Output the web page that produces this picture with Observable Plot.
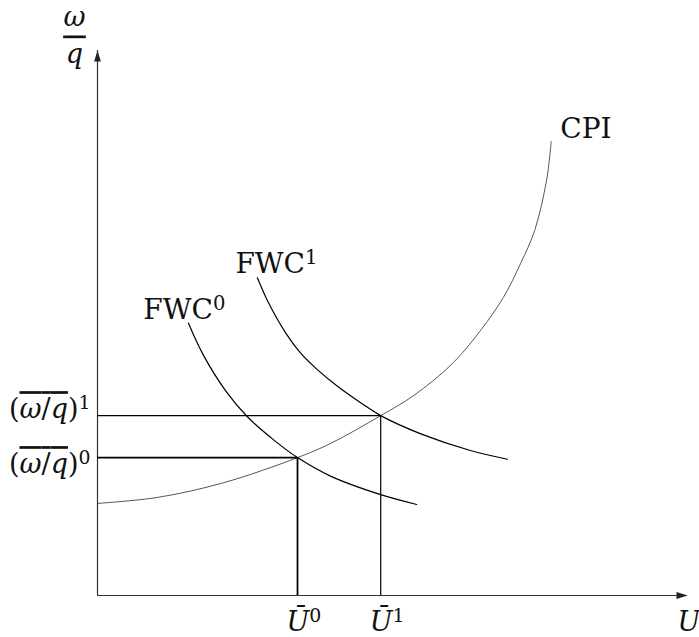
<!DOCTYPE html>
<html>
<head>
<meta charset="utf-8">
<script src="https://cdn.jsdelivr.net/npm/d3@7"></script>
<script src="https://cdn.jsdelivr.net/npm/@observablehq/plot@0.6"></script>
<style>
  html, body { margin: 0; padding: 0; background: #fff; }
</style>
</head>
<body>
<div id="chart"></div>
<script>
// Axis extents (U horizontally, real wage ω/q vertically)
const uMax = 10;
const wMax = 10;

// Price-setting curve (CPI)
const cpiU = [0, 1.02, 2.14, 3.39, 3.95, 4.80, 5.36, 6.01, 6.49, 6.88, 7.17, 7.41, 7.61, 7.69];
const cpiW = [1.69, 1.80, 2.07, 2.53, 2.79, 3.30, 3.67, 4.25, 4.86, 5.47, 6.09, 6.70, 7.61, 8.33];

// Wage curves before (0) and after (1) the shift
const fwc0U = [1.54, 1.79, 2.17, 2.54, 2.98, 3.39, 3.95, 4.80, 5.41];
const fwc0W = [5.00, 4.42, 3.76, 3.28, 2.86, 2.53, 2.19, 1.85, 1.67];
const fwc1U = [2.71, 2.89, 3.20, 3.44, 3.73, 4.09, 4.51, 4.80, 5.47, 6.32, 6.95];
const fwc1W = [5.83, 5.39, 4.80, 4.45, 4.14, 3.82, 3.50, 3.30, 2.97, 2.66, 2.50];

// Equilibria where each wage curve meets the CPI curve
const eqU = [3.39, 4.80];
const eqW = [2.53, 3.30];
const eqTags = ["0", "1"];

// Curve and axis names (markup: *italic*, {overline}, ^superscript)
const curveNames = ["CPI", "FWC^0", "FWC^1"];
const axisNames = ["*U*", "*ω*", "{\u200A*q*\u200A}"];

const serif = "DejaVu Serif";
const fs = 27;
const supRaise = 9;

// Filled arrowhead, tip at the origin pointing up
const arrowHead = {
  draw(ctx) {
    ctx.moveTo(0, 0);
    ctx.lineTo(3.4, 11);
    ctx.lineTo(-3.4, 11);
    ctx.closePath();
  }
};

const textBase = {fontFamily: serif, fontSize: fs, fill: "#111", lineAnchor: "bottom"};
const nameBase = {...textBase, fontSize: 28, textAnchor: "start"};

const marks = [
  // axes
  Plot.ruleY([0], {x1: 0, x2: uMax, stroke: "#333", strokeWidth: 1.2}),
  Plot.ruleX([0], {y1: 0, y2: wMax, stroke: "#333", strokeWidth: 1.2}),
  Plot.dot([0], {x: uMax, y: 0, symbol: arrowHead, rotate: 90, fill: "#222", stroke: "none"}),
  Plot.dot([0], {x: 0, y: wMax, symbol: arrowHead, fill: "#222", stroke: "none"}),

  // curves
  Plot.line(cpiU, {x: cpiU, y: cpiW, curve: "catmull-rom", stroke: "#444", strokeWidth: 0.9}),
  Plot.line(fwc0U, {x: fwc0U, y: fwc0W, curve: "catmull-rom", stroke: "#000", strokeWidth: 1.2}),
  Plot.line(fwc1U, {x: fwc1U, y: fwc1W, curve: "catmull-rom", stroke: "#000", strokeWidth: 1.2}),
];

// guide lines from each equilibrium to the axes
const guideWidths = [1.8, 1.2];
eqU.forEach((u, i) => {
  const w = eqW[i];
  marks.push(
    Plot.ruleY([w], {x1: 0, x2: u, y: w, stroke: "#000", strokeWidth: guideWidths[i]}),
    Plot.ruleX([u], {y1: 0, y2: w, x: u, stroke: "#000", strokeWidth: guideWidths[i]})
  );
});

// equilibrium tick labels
const yLabelDy = [15.5, 2.5];
eqTags.forEach((k, i) => {
  marks.push(
    Plot.text([`*Ū*^${k}`], {...textBase, x: eqU[i], y: 0, textAnchor: "start", dx: -11, dy: 35}),
    Plot.text([`({*ω*/*q*})^${k}`], {...textBase, x: 0, y: eqW[i], textAnchor: "end", dx: -7, dy: yLabelDy[i]})
  );
});

// curve names
marks.push(
  Plot.text([curveNames[0]], {...nameBase, x: cpiU[cpiU.length - 1], y: cpiW[cpiW.length - 1], dx: 9, dy: -4}),
  Plot.text([curveNames[1]], {...nameBase, x: fwc0U[0], y: fwc0W[0], dx: -45, dy: -4}),
  Plot.text([curveNames[2]], {...nameBase, x: fwc1U[0], y: fwc1W[0], dx: -22, dy: -5})
);

// axis names
marks.push(
  Plot.text([axisNames[0]], {...textBase, x: uMax, y: 0, textAnchor: "start", dx: -10, dy: 35}),
  Plot.text([axisNames[1]], {...textBase, x: 0, y: wMax, textAnchor: "middle", dx: -23, dy: -25}),
  Plot.text([axisNames[2]], {...textBase, x: 0, y: wMax, textAnchor: "middle", dx: -23, dy: 12})
);

const svg = Plot.plot({
  width: 699,
  height: 637,
  marginLeft: 97,
  marginRight: 12,
  marginTop: 50,
  marginBottom: 42,
  x: {domain: [0, uMax], axis: null},
  y: {domain: [0, wMax], axis: null},
  marks
});

// turn the small markup in labels into styled tspans
const svgNS = "http://www.w3.org/2000/svg";
function richify(el) {
  el.setAttribute("font-family", serif);
  const src = el.textContent;
  if (!/[*{}^]/.test(src)) return;
  const runs = [];
  let italic = false, over = false, sup = false, buf = "";
  const flush = () => { if (buf) runs.push({text: buf, italic, over, sup}); buf = ""; };
  for (const ch of src) {
    if (ch === "*") { flush(); italic = !italic; }
    else if (ch === "{") { flush(); over = true; }
    else if (ch === "}") { flush(); over = false; }
    else if (ch === "^") { flush(); sup = true; }
    else buf += ch;
  }
  flush();
  el.textContent = "";
  let raised = false;
  for (const r of runs) {
    const t = document.createElementNS(svgNS, "tspan");
    t.textContent = r.text;
    if (r.italic) t.setAttribute("font-style", "italic");
    if (r.over) t.setAttribute("text-decoration", "overline");
    if (r.sup) {
      t.setAttribute("font-size", "70%");
      if (!raised) { t.setAttribute("dy", -supRaise); raised = true; }
    } else if (raised) {
      t.setAttribute("dy", supRaise); raised = false;
    }
    el.appendChild(t);
  }
}
d3.select(svg).selectAll("text").each(function () { richify(this); });

document.getElementById("chart").appendChild(svg);
</script>
</body>
</html>
